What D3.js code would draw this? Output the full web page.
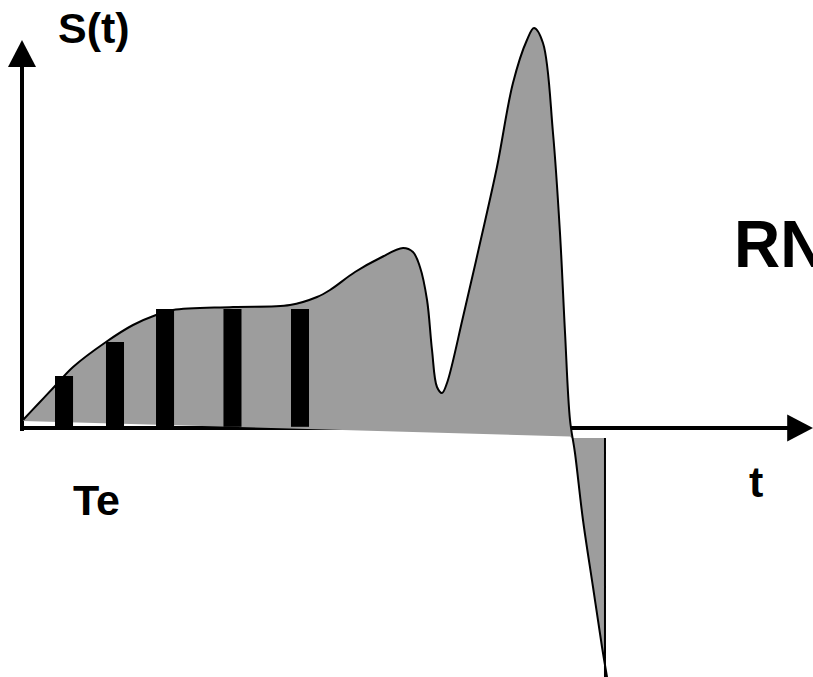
<!DOCTYPE html>
<html>
<head>
<meta charset="utf-8">
<script src="https://cdn.jsdelivr.net/npm/d3@7"></script>
<style>
  html, body { margin: 0; padding: 0; background: #ffffff; }
  svg { display: block; }
  text { font-family: "Liberation Sans", Arial, sans-serif; font-weight: bold; fill: #000; }
</style>
</head>
<body>
<svg id="chart" width="813" height="677"></svg>
<script>
// ---- data (arbitrary units: t along time axis, S signal amplitude) ----
const curveT = [0, 2.06, 4.12, 6.44, 10.68, 14.16, 17.12, 19.31, 27.03, 34.36, 37.84, 39.51, 42.73, 45.95, 48.91, 50.19, 51.09, 52.0, 52.64, 53.28, 53.93, 54.57, 56.63, 58.82, 61.0, 63.06, 64.86, 65.77, 66.92, 68.21, 69.11, 69.76, 70.4, 71.04, 72.07, 73.36, 74.52, 75.16];
const curveS = [2.0, 6.25, 10.5, 15.25, 21.5, 25.75, 28.25, 29.5, 30.25, 30.75, 32.75, 34.5, 39, 42.5, 45, 44, 40.25, 32, 19.5, 10.25, 8.75, 11.25, 27.75, 46.25, 65.25, 86.25, 97, 100, 96.25, 73.75, 48.75, 23.75, 2, -6.25, -23, -39.75, -54.75, -62.25];
// sloping baseline under the gray area
const baseT = [0, 70.4];
const baseS = [1.75, -2.1];
// negative lobe closing edge
const lobeT = [74.9, 74.9, 70.6];
const lobeS = [-62.25, -2.5, -2.5];
// sampling bars
const barT = [5.28, 11.84, 18.28, 26.96, 35.65];
const barS = [13, 21.5, 29.75, 29.75, 29.75];
const barWidthT = 2.32;
// axes extents (data units)
const xAxisT = [-0.4, 101.7];
const yAxisS = [-0.6, 97];
// labels
const labelTexts = ["S(t)", "Te", "t", "RN"];

// ---- scales ----
const x = d3.scaleLinear().domain([0, 100]).range([23, 800]);
const y = d3.scaleLinear().domain([-62.25, 100]).range([677, 28]);

const svg = d3.select("#chart");
svg.append("rect").attr("width", 813).attr("height", 677).attr("fill", "#fff");

// ---- axes ----
const xAxisScale = d3.scaleLinear().domain([xAxisT[0], xAxisT[1] - 3.2]).range([x(xAxisT[0]), x(xAxisT[1] - 3.2)]);
const xAxisG = svg.append("g")
  .attr("transform", `translate(0,${y(0) - 0.5})`)
  .call(d3.axisBottom(xAxisScale).tickValues([]).tickSizeOuter(0));
xAxisG.select(".domain").attr("stroke", "#000").attr("stroke-width", 4);

const yAxisScale = d3.scaleLinear().domain([yAxisS[0], yAxisS[1] - 6.5]).range([y(yAxisS[0]), y(yAxisS[1] - 6.5)]);
const yAxisG = svg.append("g")
  .attr("transform", `translate(${x(0) - 1.5},0)`)
  .call(d3.axisLeft(yAxisScale).tickValues([]).tickSizeOuter(0));
yAxisG.select(".domain").attr("stroke", "#000").attr("stroke-width", 4);

// arrowheads
const xt = x(xAxisT[1]), xy = y(0);
svg.append("path")
  .attr("d", `M${xt},${xy} L${xt - 26},${xy - 13.5} L${xt - 26},${xy + 13.5} Z`)
  .attr("fill", "#000");
const yt = y(yAxisS[1]), yx = x(0) - 1;
svg.append("path")
  .attr("d", `M${yx},${yt} L${yx - 14},${yt + 27} L${yx + 14},${yt + 27} Z`)
  .attr("fill", "#000");

// ---- gray signal area ----
const pts = curveT.map((t, i) => [x(t), y(curveS[i])]);
const smooth = d3.line().curve(d3.curveCatmullRom.alpha(0.5));
const straight = d3.line();
const curveD = smooth(pts);
const lobePts = lobeT.map((t, i) => [x(t), y(lobeS[i])]);
const basePts = baseT.map((t, i) => [x(t), y(baseS[i])]).reverse();
const closeD = straight(lobePts.concat(basePts)).replace(/^M/, "L");

svg.append("path")
  .attr("d", curveD + closeD + "Z")
  .attr("fill", "#9d9d9d")
  .attr("stroke", "none");

// ---- bars ----
svg.selectAll("rect.bar")
  .data(barT)
  .join("rect")
  .attr("class", "bar")
  .attr("x", (d) => x(d - barWidthT / 2))
  .attr("width", x(barWidthT) - x(0))
  .attr("y", (d, i) => y(barS[i]))
  .attr("height", (d, i) => y(0.3) - y(barS[i]))
  .attr("fill", "#000");

// ---- curve outline ----
const outlineD = curveD + straight(lobePts.slice(0, 2)).replace(/^M/, "L");
svg.append("path")
  .attr("d", outlineD)
  .attr("fill", "none")
  .attr("stroke", "#000")
  .attr("stroke-width", 2)
  .attr("stroke-linejoin", "round");

// ---- labels ----
svg.append("text").attr("x", 58).attr("y", 43).attr("font-size", 43).text(labelTexts[0]);
svg.append("text").attr("x", 73).attr("y", 515).attr("font-size", 43).text(labelTexts[1]);
svg.append("text").attr("x", 749).attr("y", 497).attr("font-size", 43).text(labelTexts[2]);
svg.append("text").attr("transform", "translate(734,267) scale(0.97,1)").attr("font-size", 66).text(labelTexts[3]);
</script>
</body>
</html>
